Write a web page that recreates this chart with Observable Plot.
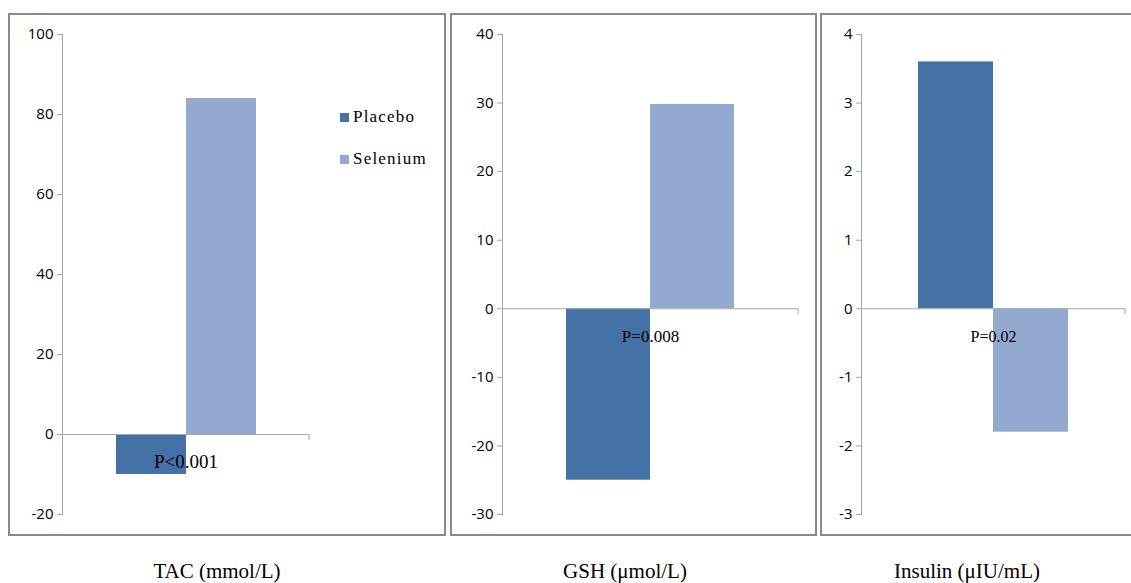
<!DOCTYPE html>
<html>
<head>
<meta charset="utf-8">
<script src="https://cdn.jsdelivr.net/npm/d3@7"></script>
<script src="https://cdn.jsdelivr.net/npm/@observablehq/plot@0.6"></script>
<style>
  html, body { margin: 0; padding: 0; background: #fff; overflow: hidden; }
  #root { position: relative; width: 1131px; height: 583px; }
  .box { position: absolute; box-sizing: border-box; border: 2px solid #8a8a8a; background: #fff; }
  .box svg { position: absolute; left: 0; top: 0; overflow: visible; }
  .cap { position: absolute; font-family: "Liberation Serif", serif; font-size: 21px; line-height: 21px; color: #000; white-space: nowrap; transform: translateX(-50%); }
  .leg { position: absolute; font-family: "Liberation Serif", serif; font-size: 17px; letter-spacing: 1.2px; line-height: 17px; color: #000; white-space: nowrap; }
  .leg span.sw { display: inline-block; width: 9px; height: 9px; margin-right: 4px; vertical-align: 0px; }
</style>
</head>
<body>
<div id="root"></div>
<script>
// ---- data ----
const panels = ["TAC (mmol/L)", "GSH (\u03bcmol/L)", "Insulin (\u03bcIU/mL)"];
const series = ["Placebo", "Selenium"];
const placebo = [-10, -25, 3.6];
const selenium = [84, 29.8, -1.8];
const pValues = ["P<0.001", "P=0.008", "P=0.02"];
const yTicks = [
  [-20, 0, 20, 40, 60, 80, 100],
  [-30, -20, -10, 0, 10, 20, 30, 40],
  [-3, -2, -1, 0, 1, 2, 3, 4]
];
const colors = ["#4472a6", "#94a9d0"];

// ---- layout (style only) ----
const boxes = [
  {left: 8, top: 13, w: 438, h: 523, ml: 52, mr: 135, pFont: 19},
  {left: 450, top: 13, w: 367, h: 523, ml: 50, mr: 17, pFont: 17},
  {left: 820, top: 13, w: 330, h: 523, ml: 39, mr: 23, pFont: 16}
];
const capX = [217, 625, 967];
const axisGray = "#a6a6a6";

const root = document.getElementById("root");

// small end tick on the category axis, derived from the scales
function endTick(index, scales, values, dim) {
  const x = dim.width - dim.marginRight;
  const y = scales.y(0);
  const line = document.createElementNS("http://www.w3.org/2000/svg", "line");
  line.setAttribute("x1", x); line.setAttribute("x2", x);
  line.setAttribute("y1", y); line.setAttribute("y2", y + 6);
  line.setAttribute("stroke", axisGray);
  return line;
}

panels.forEach((name, i) => {
  const b = boxes[i];
  const data = series.map((s, j) => ({series: s, value: [placebo, selenium][j][i]}));
  const ticks = yTicks[i];
  const box = document.createElement("div");
  box.className = "box";
  Object.assign(box.style, {left: b.left + "px", top: b.top + "px", width: b.w + "px", height: b.h + "px"});
  const plot = Plot.plot({
    width: b.w - 4,
    height: b.h - 4,
    marginLeft: b.ml,
    marginRight: b.mr,
    marginTop: 19,
    marginBottom: 20,
    style: {fontFamily: "'Open Sans', sans-serif", fontSize: "15px", color: "#000", background: "transparent"},
    x: {domain: series, paddingInner: 0, paddingOuter: 0.75, axis: null},
    y: {domain: [d3.min(ticks), d3.max(ticks)], axis: null},
    color: {domain: series, range: colors},
    marks: [
      Plot.frame({anchor: "left", stroke: axisGray}),
      Plot.axisY({ticks: ticks, tickSize: 5, tickPadding: 4, stroke: axisGray, fill: "#000", fontSize: 15, label: null, tickFormat: d => String(d)}),
      Plot.barY(data, {x: "series", y: "value", fill: "series"}),
      Plot.ruleY([0], {stroke: axisGray}),
      endTick,
      Plot.text([{label: pValues[i], y: 0}], {
        y: "y", text: "label", frameAnchor: "middle", lineAnchor: "bottom", dy: 33,
        fontFamily: "'Liberation Serif', serif", fontSize: b.pFont, fill: "#000"
      })
    ]
  });
  box.appendChild(plot);
  root.appendChild(box);

  const cap = document.createElement("div");
  cap.className = "cap";
  cap.textContent = name;
  Object.assign(cap.style, {left: capX[i] + "px", top: "561px"});
  root.appendChild(cap);
});

// legend in first panel
const legTops = [108, 150];
series.forEach((s, j) => {
  const row = document.createElement("div");
  row.className = "leg";
  Object.assign(row.style, {left: "340px", top: legTops[j] + "px"});
  const sw = document.createElement("span");
  sw.className = "sw";
  sw.style.background = colors[j];
  row.appendChild(sw);
  row.appendChild(document.createTextNode(s));
  root.appendChild(row);
});
</script>
</body>
</html>
